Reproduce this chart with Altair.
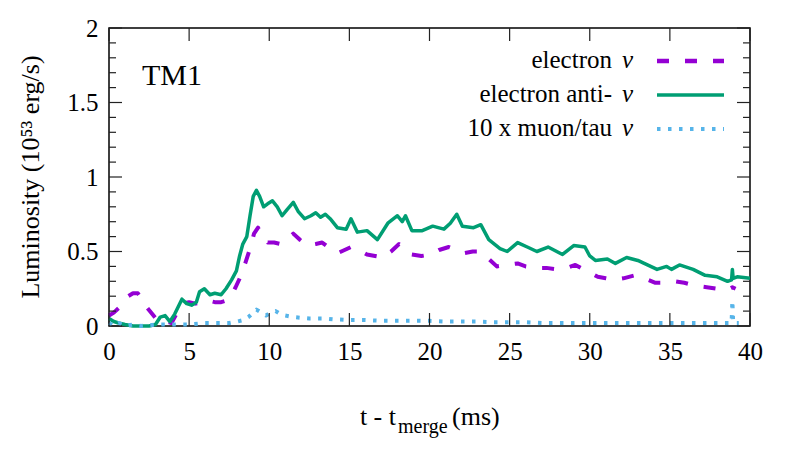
import altair as alt
import pandas as pd

# ---------------- data ----------------
# electron anti-neutrino (solid green)
t_anti = [0.0, 0.3, 0.6, 1.0, 1.5, 2.0, 2.5, 2.9, 3.2, 3.5, 3.8, 4.1, 4.55, 4.85, 5.15, 5.45,
          5.65, 5.95, 6.3, 6.6, 7.0, 7.3, 7.65, 7.95, 8.15, 8.35, 8.6, 8.8, 9.0, 9.2, 9.4,
          9.65, 9.9, 10.2, 10.5, 10.8, 11.1, 11.5, 11.8, 12.2, 12.6, 12.9, 13.2, 13.5, 13.8,
          14.25, 14.8, 15.1, 15.5, 16.1, 16.75, 17.4, 18.0, 18.3, 18.5, 18.9, 19.55, 20.2,
          20.9, 21.3, 21.7, 22.05, 22.75, 23.2, 23.7, 24.4, 24.85, 25.5, 26.1, 26.7, 27.4,
          28.3, 29.0, 29.7, 30.0, 30.35, 31.1, 31.6, 32.3, 33.0, 34.2, 34.8, 35.1, 35.6,
          36.45, 37.2, 37.95, 38.6, 38.85, 38.9, 38.95, 39.2, 40.0]
l_anti = [0.05, 0.03, 0.02, 0.01, 0.0, 0.0, 0.0, 0.01, 0.06, 0.07, 0.03, 0.08, 0.18, 0.15, 0.14, 0.16,
          0.23, 0.25, 0.21, 0.22, 0.21, 0.25, 0.31, 0.37, 0.47, 0.55, 0.60, 0.74, 0.87, 0.91, 0.87,
          0.80, 0.82, 0.84, 0.80, 0.74, 0.78, 0.83, 0.77, 0.72, 0.74, 0.76, 0.73, 0.75, 0.72,
          0.66, 0.65, 0.72, 0.63, 0.64, 0.58, 0.69, 0.74, 0.70, 0.74, 0.64, 0.64, 0.67,
          0.65, 0.69, 0.75, 0.67, 0.66, 0.68, 0.58, 0.52, 0.50, 0.56, 0.53, 0.50, 0.53,
          0.48, 0.54, 0.53, 0.47, 0.44, 0.45, 0.42, 0.46, 0.44, 0.38, 0.40, 0.38, 0.41,
          0.38, 0.34, 0.33, 0.30, 0.31, 0.38, 0.32, 0.33, 0.32]

# electron neutrino (dashed purple)
t_e = [0.0, 0.3, 0.6, 0.9, 1.2, 1.5, 1.8, 2.1, 2.4, 2.7, 3.0, 3.3, 3.6, 3.9, 4.2, 4.6, 5.0,
       5.4, 5.8, 6.2, 6.6, 7.0, 7.3, 7.6, 7.9, 8.2, 8.5, 8.8, 9.05, 9.3, 9.6, 9.9, 10.3,
       10.7, 11.1, 11.5, 11.9, 12.4, 12.9, 13.3, 13.8, 14.3, 14.7, 15.1, 15.6, 16.1, 16.6,
       17.1, 17.6, 18.1, 18.5, 18.9, 19.5, 20.1, 20.6, 21.2, 21.7, 22.2, 22.7, 23.2, 23.7,
       24.2, 24.8, 25.5, 26.0, 26.6, 27.3, 28.0, 28.6, 29.1, 29.6, 30.0, 30.5, 31.0, 31.5,
       32.1, 32.8, 33.4, 34.1, 34.7, 35.3, 35.9, 36.6, 37.3, 37.95, 38.5, 38.9, 39.1]
l_e = [0.07, 0.09, 0.12, 0.17, 0.20, 0.22, 0.22, 0.17, 0.12, 0.08, 0.04, 0.02, 0.03, 0.02, 0.08, 0.15, 0.16,
       0.15, 0.16, 0.17, 0.16, 0.16, 0.17, 0.20, 0.26, 0.33, 0.42, 0.52, 0.62, 0.66, 0.60, 0.56, 0.56,
       0.55, 0.58, 0.62, 0.58, 0.54, 0.55, 0.56, 0.52, 0.49, 0.51, 0.53, 0.51, 0.48, 0.47,
       0.46, 0.50, 0.55, 0.52, 0.48, 0.47, 0.48, 0.51, 0.53, 0.51, 0.49, 0.50, 0.50, 0.45,
       0.40, 0.41, 0.42, 0.40, 0.39, 0.39, 0.38, 0.39, 0.41, 0.38, 0.36, 0.33, 0.32, 0.31,
       0.32, 0.34, 0.32, 0.29, 0.29, 0.30, 0.29, 0.27, 0.26, 0.25, 0.24, 0.26, 0.25]

# 10 x muon/tau neutrino (dotted blue)
t_mu = [0.0, 0.3, 0.6, 1.0, 1.5, 2.0, 3.0, 4.0, 5.0, 6.0, 7.0, 7.5, 8.0, 8.4, 8.7, 9.0, 9.2,
        9.5, 9.8, 10.1, 10.4, 10.7, 11.0, 11.5, 12.0, 12.5, 13.0, 13.5, 14.0, 15.0, 16.0,
        17.0, 18.0, 19.0, 20.0, 21.0, 22.0, 23.0, 24.0, 25.0, 26.0, 27.0, 28.0, 29.0, 30.0,
        32.0, 34.0, 36.0, 38.0, 38.85, 38.9, 38.95, 39.3]
l_mu = [0.02, 0.0, 0.02, 0.0, 0.01, 0.0, 0.01, 0.01, 0.01, 0.02, 0.02, 0.02, 0.03, 0.04, 0.06, 0.09, 0.11,
        0.09, 0.07, 0.09, 0.10, 0.08, 0.07, 0.06, 0.055, 0.05, 0.05, 0.05, 0.045, 0.04, 0.04,
        0.035, 0.035, 0.035, 0.035, 0.03, 0.03, 0.03, 0.025, 0.025, 0.025, 0.02, 0.02, 0.02, 0.02,
        0.02, 0.02, 0.02, 0.02, 0.02, 0.17, 0.02, 0.02]

series_names = ["electron", "electron anti-", "10 x muon/tau"]
series_colors = ["#9400D3", "#009E73", "#56B4E9"]

x_ticks = [0, 5, 10, 15, 20, 25, 30, 35, 40]
y_ticks = [0, 0.5, 1, 1.5, 2]
y_minor = [0.1, 0.2, 0.3, 0.4, 0.6, 0.7, 0.8, 0.9, 1.1, 1.2, 1.3, 1.4, 1.6, 1.7, 1.8, 1.9]

# ---------------- chart ----------------
W, H = 641, 298
FONT = "'Liberation Serif', 'Times New Roman', Times, serif"
FS = 25

xs = alt.Scale(domain=[0, 40], nice=False, zero=False)
ys = alt.Scale(domain=[0, 2], nice=False, zero=False)

xaxis = alt.Axis(values=x_ticks, title=None, domain=False, ticks=False, grid=False,
                 labelFont=FONT, labelFontSize=FS, labelColor="black", labelPadding=13,
                 labelFlush=False, labelOverlap=False, format="~g")
yaxis = alt.Axis(values=y_ticks, title=None, domain=False, ticks=False, grid=False,
                 labelFont=FONT, labelFontSize=FS, labelColor="black", labelPadding=11,
                 labelFlush=False, labelOverlap=False, format="~g")


def line(t, l, color, width, dash=None):
    df = pd.DataFrame({"t": t, "L": l})
    kw = dict(color=color, strokeWidth=width, strokeJoin="round")
    if dash is not None:
        kw["strokeDash"] = dash
    return alt.Chart(df).mark_line(**kw).encode(
        x=alt.X("t:Q", scale=xs, axis=xaxis),
        y=alt.Y("L:Q", scale=ys, axis=yaxis),
    )


e_line = line(t_e, l_e, series_colors[0], 4, [12, 16])
anti_line = line(t_anti, l_anti, series_colors[1], 3.5)
mu_line = line(t_mu, l_mu, series_colors[2], 4, [3.5, 7.5])

# inward ticks (gnuplot style)
xt = pd.DataFrame({"v": x_ticks})
ytm = pd.DataFrame({"v": y_ticks})
ytn = pd.DataFrame({"v": y_minor})
tick_kw = dict(color="#222222", strokeWidth=1.2)

ticks = [
    alt.Chart(xt).mark_rule(**tick_kw).encode(x=alt.X("v:Q", scale=xs, axis=xaxis),
                                              y=alt.value(H), y2=alt.value(H - 13)),
    alt.Chart(xt).mark_rule(**tick_kw).encode(x=alt.X("v:Q", scale=xs, axis=xaxis),
                                              y=alt.value(0), y2=alt.value(13)),
    alt.Chart(ytm).mark_rule(**tick_kw).encode(y=alt.Y("v:Q", scale=ys, axis=yaxis),
                                               x=alt.value(0), x2=alt.value(13)),
    alt.Chart(ytm).mark_rule(**tick_kw).encode(y=alt.Y("v:Q", scale=ys, axis=yaxis),
                                               x=alt.value(W), x2=alt.value(W - 13)),
    alt.Chart(ytn).mark_rule(**tick_kw).encode(y=alt.Y("v:Q", scale=ys, axis=yaxis),
                                               x=alt.value(0), x2=alt.value(7)),
    alt.Chart(ytn).mark_rule(**tick_kw).encode(y=alt.Y("v:Q", scale=ys, axis=yaxis),
                                               x=alt.value(W), x2=alt.value(W - 7)),
]

one = pd.DataFrame({"a": [0]})


def label(text, x, y, size=FS, align="left", baseline="alphabetic", angle=0, style="normal"):
    kw = dict(text=text, font=FONT, fontSize=size, align=align, baseline=baseline,
              color="black", fontStyle=style)
    if angle:
        kw["angle"] = angle
    return alt.Chart(one).mark_text(**kw).encode(x=alt.value(x), y=alt.value(y))


texts = [
    label("TM1", 33, 57, size=30),
    label("Luminosity (10\u2075\u00b3 erg/s)", -70, 149, size=26, align="center", angle=270),
    label("t - t", 287, 397, size=26, align="right"),
    label("merge", 289, 405, size=20),
    label("(ms)", 343, 397, size=26),
]

# legend (gnuplot style: label on the left, sample on the right)
leg_y = [33, 67, 101]
leg_dash = [[12, 16], None, [3.5, 7.5]]
leg_w = [4.5, 3.5, 4]
legend = []
for name, col, yy, dsh, w in zip(series_names, series_colors, leg_y, leg_dash, leg_w):
    legend.append(label(name, 503, yy + 7, size=FS, align="right"))
    legend.append(label("\u03bd", 513, yy + 7, size=FS, style="italic"))
    rk = dict(color=col, strokeWidth=w)
    if dsh is not None:
        rk["strokeDash"] = dsh
    legend.append(alt.Chart(one).mark_rule(**rk).encode(
        x=alt.value(548), x2=alt.value(615), y=alt.value(yy)))

chart = alt.layer(e_line, anti_line, mu_line, *ticks, *texts, *legend).properties(
    width=W, height=H,
    autosize=alt.AutoSizeParams(type="none"),
    padding={"left": 101, "top": 20, "right": 20, "bottom": 120},
    background="white",
).configure_view(stroke="black", strokeWidth=1.5)

chart.save("out.html", embed_options={"renderer": "svg", "actions": False})
